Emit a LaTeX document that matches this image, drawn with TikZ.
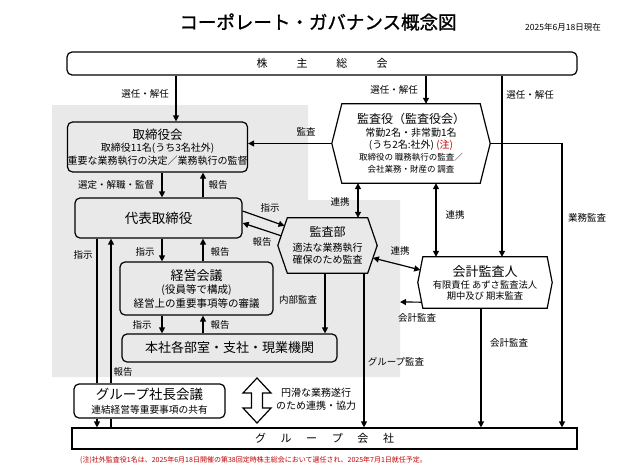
\documentclass[tikz,border=0pt]{standalone}
\usepackage{fontspec}
\setmainfont{Noto Sans CJK JP}
\newfontfamily\titlefont{Noto Sans CJK JP}[AutoFakeBold=1.2]
\usetikzlibrary{arrows.meta,calc}

\newcommand\hexframe[2]{\draw[ln] ([xshift=#2pt]#1.north west) -- ([xshift=-#2pt]#1.north east) -- (#1.east) -- ([xshift=-#2pt]#1.south east) -- ([xshift=#2pt]#1.south west) -- (#1.west) -- cycle;}

\begin{document}
\begin{tikzpicture}[x=1pt,y=1pt]
\tikzstyle{every node}+=[inner sep=0pt]
\tikzstyle{ln}=[black, line width=1.2pt]
\tikzstyle{box}=[ln, draw, rounded corners=5pt, align=center]
\tikzstyle{hex}=[align=center]
\tikzstyle{lbl}=[font=\fontsize{9.5}{11}\selectfont]
\tikzstyle{arr}=[ln, -{Triangle[length=6pt,width=6pt]}]
\tikzstyle{darr}=[ln, {Triangle[length=6pt,width=6pt]}-{Triangle[length=6pt,width=6pt]}]
\useasboundingbox (0,0) rectangle (628,-471);
\fill[gray!17] (52,-105) -- (308,-105) -- (308,-200) -- (400,-200) -- (400,-377) -- (52,-377) -- cycle;
\draw (318,-22) node[font=\titlefont\bfseries\fontsize{18.5}{20}\selectfont] (title) {コーポレート・ガバナンス概念図};
\draw (563,-27) node[font=\fontsize{8.5}{10}\selectfont] (date) {2025年6月18日現在};
\node[box, minimum width=510pt, minimum height=23pt, font=\fontsize{11}{12}\selectfont] (soukai) at (322,-63.5) {株\hspace{29pt}主\hspace{29pt}総\hspace{29pt}会};
\node[box, minimum width=169pt, minimum height=50pt, font=\fontsize{10}{12.5}\selectfont] (torikai) at (157.5,-147) {{\fontsize{12.5}{12.5}\selectfont 取締役会}\\取締役11名(うち3名社外)\\重要な業務執行の決定／業務執行の監督};
\node[box, minimum width=167pt, minimum height=40pt, font=\fontsize{13.5}{15}\selectfont] (daihyo) at (158.5,-218) {代表取締役};
\node[box, minimum width=153pt, minimum height=53pt, font=\fontsize{10.5}{13.5}\selectfont] (keiei) at (196.5,-288.5) {{\fontsize{13}{13.5}\selectfont 経営会議}\\(役員等で構成)\\経営上の重要事項等の審議};
\node[box, minimum width=215pt, minimum height=28pt, font=\fontsize{13}{15}\selectfont] (honsha) at (229.5,-348) {本社各部室・支社・現業機関};
\node[box, fill=white, minimum width=151pt, minimum height=34pt, font=\fontsize{9.7}{14}\selectfont] (shacho) at (149.5,-401) {{\fontsize{13.5}{14}\selectfont グループ社長会議}\\連結経営等重要事項の共有};
\node[ln, draw, minimum width=505pt, minimum height=21pt, font=\fontsize{11}{12}\selectfont] (group) at (324.5,-438.5) {グ\hspace{14.6pt}ル\hspace{14.6pt}ー\hspace{14.6pt}プ\hspace{14.6pt}会\hspace{14.6pt}社};
\node[hex, minimum width=158pt, minimum height=79pt, font=\fontsize{10}{12}\selectfont] (kansayaku) at (411,-143.5) {{\fontsize{12}{14}\selectfont 監査役（監査役会）}\\[1pt]常勤2名・非常勤1名\\(うち2名:社外) {\color{red!75!black}(注)}\\{\fontsize{8.5}{11}\selectfont 取締役の 職務執行の監査／}\\{\fontsize{8.5}{11}\selectfont 会社業務・財産の 調査}};
\node[hex, minimum width=99pt, minimum height=55pt, font=\fontsize{10}{12}\selectfont] (kansabu) at (327.5,-245.5) {{\fontsize{12}{14}\selectfont 監査部}\\[3pt]適法な業務執行\\確保のため監査};
\node[hex, minimum width=134pt, minimum height=51pt, font=\fontsize{9.3}{10.5}\selectfont] (kaikei) at (485,-282.5) {{\fontsize{13}{14}\selectfont 会計監査人}\\[2pt]有限責任 あずさ監査法人\\期中及び 期末監査};
\hexframe{kansayaku}{10}
\hexframe{kansabu}{9.5}
\hexframe{kaikei}{5}
\coordinate (sel1) at (176,0);
\coordinate (sel2) at (426,0);
\coordinate (sel3) at (502,0);
\coordinate (gyomu) at (562,0);
\coordinate (ren1) at (358,0);
\coordinate (ren2) at (436,0);
\coordinate (kai) at (481,0);
\coordinate (down) at (162,0);
\coordinate (up) at (203,0);
\coordinate (naibu) at (325,0);
\coordinate (grp) at (364,0);
\coordinate (shiji) at (97,0);
\coordinate (hokoku) at (111,0);
\coordinate (kaikeiend) at (400,-302);
\draw[arr] (soukai.south -| sel1) -- (torikai.north -| sel1);
\draw[arr] (soukai.south -| sel2) -- (kansayaku.north -| sel2);
\draw[arr] (soukai.south -| sel3) -- (kaikei.north -| sel3);
\draw[arr] (kansayaku.west) -- (torikai.east |- kansayaku.west);
\draw[arr] (kansayaku.east) -| (group.north -| gyomu);
\draw[darr] (kansayaku.south -| ren1) -- (kansabu.north -| ren1);
\draw[darr] (kansayaku.south -| ren2) -- (kaikei.north -| ren2);
\draw[darr] ($(kansabu.east)!0.45!([xshift=-9.5pt]kansabu.south east)$) -- ($(kaikei.west)!0.49!([xshift=5pt]kaikei.north west)$);
\draw[arr] ($(kaikei.west)!0.765!([xshift=5pt]kaikei.south west)$) -- (kaikeiend);
\draw[arr] (kaikei.south -| kai) -- (group.north -| kai);
\draw[arr] ([yshift=7pt]daihyo.east) -- ($(kansabu.west)!0.71!([xshift=9.5pt]kansabu.north west)$);
\draw[arr] ($(kansabu.west)!0.35!([xshift=9.5pt]kansabu.north west)$) -- ([yshift=-5pt]daihyo.east);
\draw[arr] (torikai.south -| down) -- (daihyo.north -| down);
\draw[arr] (daihyo.north -| up) -- (torikai.south -| up);
\draw[arr] (daihyo.south -| down) -- (keiei.north -| down);
\draw[arr] (keiei.north -| up) -- (daihyo.south -| up);
\draw[arr] (keiei.south -| down) -- (honsha.north -| down);
\draw[arr] (honsha.north -| up) -- (keiei.south -| up);
\draw[arr] (kansabu.south -| naibu) -- (honsha.north -| naibu);
\draw[arr] (kansabu.south -| grp) -- (group.north -| grp);
\draw[ln] (daihyo.south -| shiji) -- (shacho.north -| shiji);
\draw[arr] (shacho.south -| shiji) -- (group.north -| shiji);
\draw[ln] (group.north -| hokoku) -- (shacho.south -| hokoku);
\draw[arr] (shacho.north -| hokoku) -- (daihyo.south -| hokoku);
\draw (145,-94) node[lbl] (lsel1) {選任・解任};
\draw (394,-90) node[lbl] (lsel2) {選任・解任};
\draw (530,-95) node[lbl] (lsel3) {選任・解任};
\draw (306,-132) node[lbl] (lkansa) {監査};
\draw (587,-218) node[lbl] (lgyomu) {業務監査};
\draw (340,-202) node[lbl] (lren1) {連携};
\draw (455,-215) node[lbl] (lren2) {連携};
\draw (400,-251) node[lbl] (lren3) {連携};
\draw (417,-318) node[lbl] (lkai1) {会計監査};
\draw (509,-343) node[lbl] (lkai2) {会計監査};
\draw (270,-208) node[lbl] (lshiji1) {指示};
\draw (262,-242) node[lbl] (lhokoku1) {報告};
\draw (116,-185) node[lbl] (lsentei) {選定・解職・監督};
\draw (218,-185) node[lbl] (lhokoku2) {報告};
\draw (145,-252) node[lbl] (lshiji2) {指示};
\draw (220,-252) node[lbl] (lhokoku3) {報告};
\draw (142,-325) node[lbl] (lshiji3) {指示};
\draw (220,-325) node[lbl] (lhokoku4) {報告};
\draw (298,-300) node[lbl] (lnaibu) {内部監査};
\draw (396,-362) node[lbl] (lgrp) {グループ監査};
\draw (83,-255) node[lbl] (lshiji4) {指示};
\draw (123,-372) node[lbl] (lhokoku5) {報告};
\coordinate (mid) at (257,-400.5);
\draw[ln, line join=miter] ($(mid)+(0,22.5)$) -- ++(14,-15) -- ++(-8.5,0) -- ++(0,-15) -- ++(8.5,0) -- ++(-14,-15) -- ++(-14,15) -- ++(8.5,0) -- ++(0,15) -- ++(-8.5,0) -- cycle;
\draw (316,-399) node[align=center, font=\fontsize{10}{12.5}\selectfont] (lkyoryoku) {円滑な業務遂行\\のため連携・協力};
\draw (80,-460) node[anchor=west, text=red!75!black, font=\fontsize{7}{8}\selectfont] (note) {(注)社外監査役1名は、2025年6月18日開催の第38回定時株主総会において選任され、2025年7月1日就任予定。};
\end{tikzpicture}
\end{document}
